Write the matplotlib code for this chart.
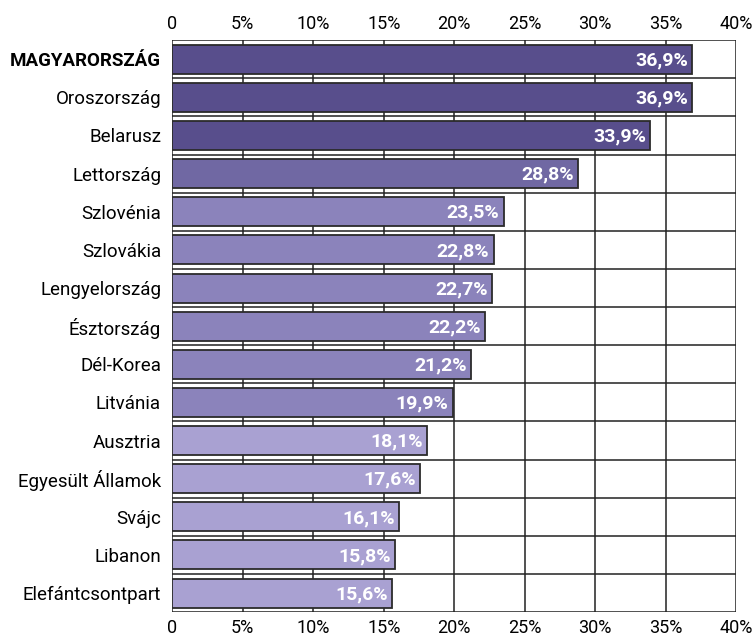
import matplotlib
matplotlib.use("Agg")
import matplotlib.pyplot as plt
import numpy as np

countries = ["MAGYARORSZÁG", "Oroszország", "Belarusz", "Lettország", "Szlovénia",
             "Szlovákia", "Lengyelország", "Észtország", "Dél-Korea", "Litvánia",
             "Ausztria", "Egyesült Államok", "Svájc", "Libanon", "Elefántcsontpart"]
values = [36.9, 36.9, 33.9, 28.8, 23.5, 22.8, 22.7, 22.2, 21.2, 19.9,
          18.1, 17.6, 16.1, 15.8, 15.6]
shade = [0, 0, 0, 1, 2, 2, 2, 2, 2, 2, 3, 3, 3, 3, 3]
palette = ["#584e8c", "#7068a3", "#8b83bb", "#a9a1d2"]
ticks = [0, 5, 10, 15, 20, 25, 30, 35, 40]
tick_labels = ["0", "5%", "10%", "15%", "20%", "25%", "30%", "35%", "40%"]

font = ["Roboto", "DejaVu Sans"]

fig = plt.figure(figsize=(7.52, 6.37), dpi=100)
ax = fig.add_axes([0.229, 0.039, 0.75, 0.898])

y = np.arange(len(countries))
colors = [palette[s] for s in shade]
ax.barh(y, values, height=0.76, color=colors, edgecolor="#2b2b2b",
        linewidth=1.3, zorder=3)

# grid: vertical at each 5%, horizontal between rows
for t in ticks:
    ax.axvline(t, color="#222222", lw=1.1, zorder=1)
for b in np.arange(-0.5, len(countries) + 0.5, 1):
    ax.axhline(b, color="#222222", lw=1.1, zorder=1)

ax.set_xlim(0, 40)
ax.set_ylim(len(countries) - 0.5, -0.5)

for yi, v in zip(y, values):
    ax.text(v - 0.3, yi + 0.03, f"{v:.1f}%".replace(".", ","), ha="right", va="center",
            color="white", fontsize=14, fontweight="bold", family=font, zorder=4)

ax.set_yticks(y)
ax.set_yticklabels(countries, family=font, fontsize=13.5)
ax.get_yticklabels()[0].set_fontweight("bold")
ax.tick_params(axis="y", length=0, pad=8)

ax.set_xticks(ticks)
ax.set_xticklabels(tick_labels, family=font, fontsize=13)
ax.tick_params(axis="x", length=0, top=True, labeltop=True, pad=5)

for s in ax.spines.values():
    s.set_visible(False)

fig.savefig("out.png", dpi=100)
